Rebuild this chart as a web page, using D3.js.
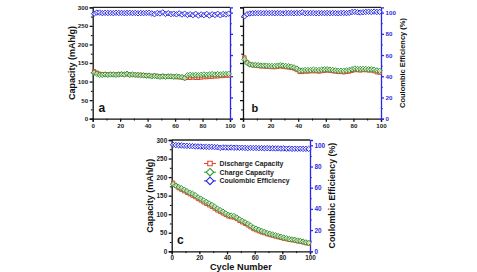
<!DOCTYPE html>
<html>
<head>
<meta charset="utf-8">
<script src="https://cdn.jsdelivr.net/npm/d3@7"></script>
<style>
  body { margin: 0; background: #fff; }
  svg { display: block; }
  text { font-family: "Liberation Sans", Arial, sans-serif; font-weight: bold; }
</style>
</head>
<body>
<svg id="chart" width="477" height="272"></svg>
<script>
// cycle numbers (every second cycle)
var cycles = [1,3,5,7,9,11,13,15,17,19,21,23,25,27,29,31,33,35,37,39,
  41,43,45,47,49,51,53,55,57,59,61,63,65,67,69,71,73,75,77,79,
  81,83,85,87,89,91,93,95,97,99];

// panel a
var dischargeA = [128,124,121,120,120,119,120,119,119,120,120,119,120,119,118,118,117,118,117,116,
  116,115,116,115,114,115,114,114,113,113,112,112,111,110,110,110,111,110,110,111,
  112,112,113,113,114,114,115,115,116,116];
var chargeA = [124,121,118,118,119,118,119,119,118,119,120,119,121,118,119,118,118,117,117,116,
  116,114,115,114,113,114,113,114,114,113,114,113,112,109,117,118,117,118,117,118,
  119,118,119,120,119,120,119,120,120,121];
var effA = [99,100,100,99.5,99.8,99.6,99.7,99.5,99.8,99.6,99.7,99.5,99.6,99.8,99.5,99.7,99.4,99.6,99.5,99.7,
  99.8,99.3,98.5,99.6,99.2,100.2,98.8,99.4,98.6,99.0,98.4,99.3,98.2,99.0,97.8,98.5,97.6,98.9,97.3,98.3,
  97.6,98.8,97.2,98.4,97.8,98.9,97.5,98.6,98.2,99.0];

// panel b
var dischargeB = [165,152,146,144,143,142,141,141,140,140,139,139,140,141,140,139,138,137,135,131,
  126,126,127,127,128,128,128,127,128,129,130,129,128,127,126,126,125,126,127,129,
  131,131,130,131,131,130,130,128,125,124];
var chargeB = [160,150,146,145,145,144,143,143,143,142,142,142,143,144,143,142,141,140,138,135,
  130,130,131,131,131,132,131,131,132,133,133,132,131,130,129,129,129,130,131,133,
  135,134,134,134,134,133,133,132,130,129];
var effB = [96.5,98.5,99.2,99.4,99.5,99.5,99.6,99.4,99.6,99.5,99.6,99.4,99.6,99.5,99.3,99.6,99.5,99.6,99.4,99.6,
  99.5,100.2,99.4,99.6,99.5,99.6,99.4,99.5,99.6,99.5,99.7,99.5,99.6,99.5,99.4,99.6,99.7,99.5,99.8,100.5,
  100.8,100.3,100.1,100.4,100.6,100.8,100.5,100.9,100.6,100.7];

// panel c
var dischargeC = [185,176,170,166,162,158,154,150,146,141,137,132,128,124,120,115,110,106,102,98,
  94,92,91,87,82,78,74,70,65,60,57,54,51,49,46,44,42,40,38,36,
  34,33,31,30,29,27,26,24,22,21];
var chargeC = [181,177,173,170,166,162,158,155,151,145,142,137,133,129,125,120,115,111,107,102,
  98,96,95,91,86,82,78,74,69,64,61,58,55,52,49,47,45,43,41,39,
  37,35,33,32,31,29,28,26,24,23];
var effC = [100.5,100.2,100,99.8,99.6,99.5,99.3,99.2,99.0,98.9,98.8,98.6,98.5,98.4,98.6,98.3,98.2,97.6,98.0,97.9,
  97.8,97.9,97.7,97.8,97.6,97.7,97.5,97.3,97.6,97.4,97.5,97.3,97.4,97.2,97.3,97.1,97.2,97.0,97.1,96.9,
  97.0,96.8,96.9,96.7,96.8,96.7,96.8,96.6,96.7,96.6];

var legendNames = ["Discharge Capacity", "Charge Capacity", "Coulombic Efficiency"];
var capTicks = [0,50,100,150,200,250,300];
var effTicks = [0,20,40,60,80,100];
var cycleTicks = [0,20,40,60,80,100];

var RED = "#e2452c", GREEN = "#2f9a2f", BLUE = "#2a2ae6";

var svg = d3.select("#chart");

function drawPanel(p) {
  var x = d3.scaleLinear().domain([0, 100]).range([p.left, p.right]);
  var y = d3.scaleLinear().domain([0, 300]).range([p.bottom, p.top]);
  var y2 = d3.scaleLinear().domain([0, 105]).range([p.bottom, p.top]);
  var g = svg.append("g");

  // minor ticks first
  function minor(axis, vals, trans, color) {
    var a = g.append("g").attr("transform", trans)
      .call(axis.tickValues(vals).tickSize(1.8).tickFormat(""));
    a.select(".domain").remove();
    a.selectAll("line").attr("stroke", color).attr("stroke-width", 1);
  }
  minor(d3.axisLeft(y), [25,75,125,175,225,275], "translate(" + p.left + ",0)", "#000");
  minor(d3.axisBottom(x), [10,30,50,70,90], "translate(0," + p.bottom + ")", "#000");
  minor(d3.axisRight(y2), [10,30,50,70,90], "translate(" + p.right + ",0)", BLUE);

  var ax = g.append("g").attr("transform", "translate(" + p.left + ",0)")
    .call(d3.axisLeft(y).tickValues(capTicks).tickSize(3).tickPadding(1.5)
      .tickFormat(p.leftLabels ? d3.format("d") : ""));
  var bx = g.append("g").attr("transform", "translate(0," + p.bottom + ")")
    .call(d3.axisBottom(x).tickValues(cycleTicks).tickSize(3).tickPadding(1.5));
  var rx = g.append("g").attr("transform", "translate(" + p.right + ",0)")
    .call(d3.axisRight(y2).tickValues(effTicks).tickSize(3).tickPadding(1.5)
      .tickFormat(p.rightLabels ? d3.format("d") : ""));

  [ax, bx].forEach(function (a) {
    a.selectAll("path,line").attr("stroke", "#111").attr("stroke-width", 1.3);
    a.selectAll("text").attr("fill", "#222").style("font-size", p.tickFont + "px");
  });
  rx.selectAll("path,line").attr("stroke", BLUE).attr("stroke-width", 1.3);
  rx.selectAll("text").attr("fill", BLUE).style("font-size", p.tickFont + "px");

  // top frame
  g.append("line").attr("x1", p.left).attr("x2", p.right)
    .attr("y1", p.top).attr("y2", p.top)
    .attr("stroke", "#222").attr("stroke-width", 1.3);

  var diamond = d3.symbol().type(d3.symbolDiamond2).size(19);
  var square = d3.symbol().type(d3.symbolSquare2).size(14);

  function series(vals, yy, color, sym, withLine) {
    var pts = cycles.map(function (c, i) { return [x(c), yy(vals[i])]; });
    if (withLine) {
      g.append("path").attr("d", d3.line()(pts))
        .attr("fill", "none").attr("stroke", color).attr("stroke-width", 1);
    }
    g.append("g").selectAll("path").data(pts).join("path")
      .attr("transform", function (d) { return "translate(" + d[0] + "," + d[1] + ")"; })
      .attr("d", sym)
      .attr("fill", "#fff").attr("fill-opacity", 0.55)
      .attr("stroke", color).attr("stroke-width", 1);
  }
  series(p.discharge, y, RED, square, true);
  series(p.charge, y, GREEN, diamond, true);
  series(p.eff, y2, BLUE, diamond, false);

  g.append("text").attr("x", p.letterX).attr("y", p.bottom - 7)
    .style("font-size", p.letterFont + "px").attr("fill", "#111").text(p.letter);

  if (p.leftTitle) {
    g.append("text")
      .attr("transform", "translate(" + p.leftTitle + "," + (p.top + p.bottom) / 2 + ") rotate(-90)")
      .attr("text-anchor", "middle").style("font-size", "9px").attr("fill", "#111")
      .text("Capacity (mAh/g)");
  }
  if (p.rightTitle) {
    g.append("text")
      .attr("transform", "translate(" + p.rightTitle + "," + (p.top + p.bottom) / 2 + ") rotate(-90)")
      .attr("text-anchor", "middle").style("font-size", p.rightTitleFont + "px").attr("fill", "#111")
      .text("Coulombic Efficiency (%)");
  }
  if (p.xTitle) {
    g.append("text").attr("x", (p.left + p.right) / 2).attr("y", p.bottom + 19)
      .attr("text-anchor", "middle").style("font-size", "9.2px").attr("fill", "#111")
      .text("Cycle Number");
  }

  if (p.legend) {
    var colors = [RED, GREEN, BLUE];
    var syms = [d3.symbol().type(d3.symbolSquare2).size(26), d3.symbol().type(d3.symbolDiamond2).size(36), d3.symbol().type(d3.symbolDiamond2).size(36)];
    var lg = g.append("g").selectAll("g").data(legendNames).join("g")
      .attr("transform", function (d, i) { return "translate(" + 210 + "," + (163.5 + i * 8.7) + ")"; });
    lg.append("line").attr("x1", -6).attr("x2", 6)
      .attr("stroke", function (d, i) { return colors[i]; }).attr("stroke-width", 1);
    lg.append("path").attr("d", function (d, i) { return syms[i](); })
      .attr("fill", "#fff").attr("stroke", function (d, i) { return colors[i]; }).attr("stroke-width", 1.1);
    lg.append("text").attr("x", 9.5).attr("dy", "0.35em")
      .style("font-size", "6.9px").attr("fill", "#222").text(function (d) { return d; });
  }
}

drawPanel({ left: 92.7, right: 230, top: 7.3, bottom: 118.7,
  discharge: dischargeA, charge: chargeA, eff: effA,
  leftLabels: true, rightLabels: false, tickFont: 6.2, letter: "a", letterX: 98.5, letterFont: 12,
  leftTitle: 74.5 });
drawPanel({ left: 243, right: 381, top: 7.3, bottom: 118.7,
  discharge: dischargeB, charge: chargeB, eff: effB,
  leftLabels: false, rightLabels: true, tickFont: 6.2, letter: "b", letterX: 251.5, letterFont: 11,
  rightTitle: 404.5, rightTitleFont: 7.5 });
drawPanel({ left: 171.7, right: 310, top: 140, bottom: 251.3,
  discharge: dischargeC, charge: chargeC, eff: effC,
  leftLabels: true, rightLabels: true, tickFont: 6.4, letter: "c", letterX: 177, letterFont: 12,
  leftTitle: 153, rightTitle: 334.5, rightTitleFont: 8.8, xTitle: true, legend: true });
</script>
</body>
</html>
